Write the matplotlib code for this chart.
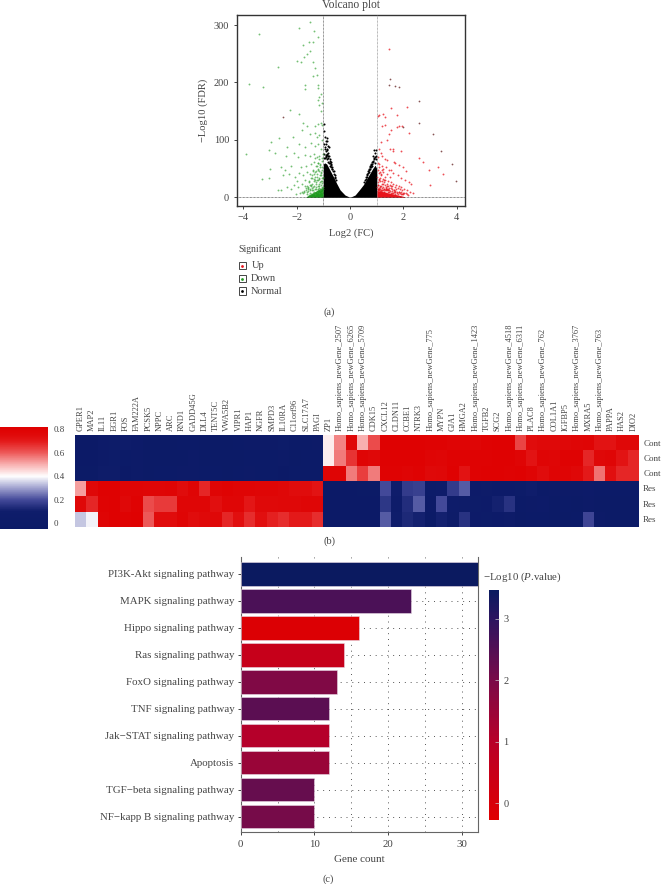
import numpy as np
import matplotlib
matplotlib.use("Agg")
import matplotlib.pyplot as plt
from matplotlib.colors import LinearSegmentedColormap, Normalize
from matplotlib.cm import ScalarMappable
from matplotlib.patches import Rectangle

plt.rcParams.update({"font.family": ["Liberation Serif", "DejaVu Serif"], "font.size": 7.5,
                     "mathtext.fontset": "custom", "mathtext.it": "Liberation Serif:italic",
                     "mathtext.rm": "Liberation Serif", "axes.unicode_minus": True})

W, H = 662, 884
TEXT = "#444444"

# volcano plot, values
up_x = [1.05, 1.1, 1.25, 1.3, 1.45, 1.55, 1.75, 1.55, 2.15, 1.2, 1.3, 1.45, 1.75, 1.85, 1.95, 2.2, 1.15, 1.4, 1.6, 1.9,
        1.1, 1.15, 1.2, 1.3, 1.4, 1.5, 1.6, 1.65, 1.05, 1.1, 1.2, 1.25, 1.35, 1.45, 1.55, 1.7, 1.85, 2.0, 2.1, 1.05, 1.1,
        1.15, 1.25, 1.3, 1.4, 1.5, 1.6, 1.8, 1.9, 2.05, 2.2, 2.3, 1.02, 1.08, 1.12, 1.18, 1.22, 1.28, 1.32, 1.38, 1.42,
        1.48, 1.52, 1.58, 1.62, 1.68, 1.72, 1.78, 1.82, 1.88, 1.92, 2.02, 2.12, 2.25, 2.35, 1.04, 1.14, 1.24, 1.34, 1.44,
        1.54, 1.64, 1.74, 1.84, 1.94, 2.04, 2.14, 1.06, 1.16, 1.26, 1.36, 1.46, 1.56, 1.66, 1.76, 1.86, 1.96,
        2.6, 2.75, 2.95, 3.0, 3.3, 3.5,
        1.03, 1.07, 1.11, 1.17, 1.21, 1.09, 1.13, 1.19, 1.27, 1.03, 1.06, 1.12, 1.16, 1.23, 1.31, 1.37, 1.09, 1.14, 1.2,
        1.29, 1.35, 1.41, 1.47, 1.53, 1.04, 1.1, 1.18, 1.26, 1.33, 1.39, 1.46, 1.57, 1.63, 1.69, 1.02, 1.08, 1.15, 1.22,
        1.3, 1.37, 1.43, 1.51, 1.59, 1.67, 1.75, 1.83, 1.91, 1.99, 2.08, 1.05, 1.13, 1.21, 1.29, 1.36, 1.44, 1.52, 1.6,
        1.7, 1.8, 1.9, 2.0, 2.18]
up_y = [142, 143, 145, 140, 258, 155, 143, 118, 157, 125, 126, 110, 123, 124, 124, 112, 96, 100, 85, 80,
        84, 78, 72, 66, 65, 85, 80, 62, 70, 58, 55, 50, 53, 48, 47, 60, 56, 52, 45, 48, 42,
        38, 44, 36, 40, 35, 42, 38, 34, 30, 26, 24, 36, 30, 34, 28, 32, 26, 30, 24, 28,
        22, 26, 20, 24, 18, 22, 16, 20, 15, 18, 14, 12, 10, 8, 22, 20, 18, 16, 14,
        16, 12, 14, 10, 12, 8, 6, 14, 12, 10, 12, 10, 8, 9, 7, 8, 6,
        68, 62, 47, 22, 53, 40,
        60, 52, 44, 40, 47, 32, 28, 24, 30, 26, 22, 18, 20, 24, 22, 20, 16, 15, 17, 15, 18, 20, 17, 19, 15, 14, 13, 14,
        15, 14, 13, 14, 12, 11, 18, 12, 11, 12, 13, 12, 12, 11, 11, 10, 9, 9, 10, 8, 7, 12, 11, 10, 9, 8, 9, 8, 7, 6, 6, 5, 5, 4]
dark_x = [1.45, 1.5, 1.7, 1.82, 2.6, 2.6, 3.1, 3.4, 3.83, 3.97, 2.0, -2.5]
dark_y = [195, 206, 194, 192, 167, 130, 110, 80, 58, 29, 123, 140]

down_x = [-1.5, -1.9, -1.35, -1.2, -3.4, -1.4, -1.75, -1.55, -1.5, -1.6, -1.72, -2.0, -1.85, -1.4, -1.3, -2.7, -1.25, -1.4,
          -1.2, -1.2, -3.8, -3.25, -1.7, -1.7, -1.1, -1.15, -1.2, -1.15, -1.1, -1.05, -2.25, -1.9, -1.75, -1.6, -1.3, -1.2,
          -1.1, -1.05, -1.8, -1.5, -1.3, -1.25, -1.15, -1.05, -2.15, -2.65, -2.95, -2.35, -1.9, -1.7, -1.45, -1.3, -1.2,
          -1.1, -3.9, -3.05, -2.8, -2.4, -2.1, -1.95, -1.7, -1.5, -1.35, -1.25, -1.15, -1.05, -3.0, -2.6, -2.45, -2.2,
          -1.85, -1.65, -1.45, -1.35, -1.25, -1.2, -1.12, -1.05, -3.05, -3.3, -2.5, -2.3, -2.05, -1.9, -1.75, -1.6, -1.5,
          -1.4, -1.3, -1.22, -1.15, -1.08, -2.7, -2.35, -2.1, -2.0, -1.8, -1.68, -1.55, -1.42, -1.32, -1.25, -1.18, -1.1,
          -1.03, -2.6, -2.2, -1.95, -1.7, -1.58, -1.48, -1.38, -1.28, -1.2, -1.12, -1.06, -1.6, -1.5, -1.42, -1.35, -1.28,
          -1.22, -1.16, -1.1, -1.04, -1.55, -1.45, -1.38, -1.3, -1.24, -1.18, -1.12, -1.07, -1.02,
          -1.03, -1.07, -1.11, -1.16, -1.21, -1.26, -1.31, -1.04, -1.09, -1.14, -1.19, -1.24, -1.29, -1.34, -1.39, -1.02,
          -1.06, -1.13, -1.17, -1.23, -1.33, -1.37, -1.43, -1.47, -1.53, -1.05, -1.1, -1.15, -1.2, -1.27, -1.36, -1.41,
          -1.46, -1.52, -1.57, -1.62, -1.67, -1.03, -1.08, -1.17, -1.26, -1.34, -1.44, -1.51, -1.59, -1.66, -1.74, -1.82,
          -1.04, -1.11, -1.19, -1.3, -1.4, -1.49, -1.56, -1.63, -1.72, -1.78, -1.88, -2.02]
down_y = [305, 294, 290, 280, 285, 270, 266, 270, 255, 250, 245, 237, 236, 235, 225, 227, 213, 212,
          196, 190, 197, 192, 195, 188, 180, 175, 170, 160, 150, 165, 152, 145, 130, 125, 125, 128,
          130, 126, 118, 110, 112, 105, 108, 100, 105, 103, 97, 88, 92, 88, 95, 90, 92,
          85, 75, 82, 78, 72, 78, 70, 74, 72, 76, 70, 72, 68, 50, 52, 48, 55, 52, 55, 58, 62, 54, 60, 56, 52,
          33, 32, 38, 40, 35, 42, 38, 44, 40, 48, 44, 50, 46, 42,
          13, 18, 22, 28, 24, 30, 26, 34, 30, 36, 32, 38,
          34, 12, 14, 18, 20, 16, 22, 18, 24, 20, 26, 28,
          6, 8, 12, 10, 14, 12, 16, 14, 18, 4, 6, 8, 6, 10, 8, 12, 10, 14,
          75, 64, 58, 66, 60, 54, 68, 48, 44, 52, 47, 41, 45, 40, 46, 36, 33, 38, 34, 30, 36, 32, 38, 34, 28, 25, 28, 24,
          30, 26, 28, 24, 20, 22, 18, 20, 16, 18, 22, 20, 18, 20, 16, 15, 14, 12, 11, 9,
          16, 15, 14, 14, 13, 12, 11, 10, 9, 8, 7, 5]
normal_x = [-0.98, -0.95, -0.92, -0.9, -0.87, -0.85, -0.82, -0.8, -0.98, -0.93, -0.88, -0.84, -0.78, -0.75, -0.72, -0.7, -0.66,
            -0.62, -0.58, -0.55, 0.98, 0.95, 0.9, 0.88, 0.85, 0.82, 0.78, 0.75, 0.7, 0.66, 0.62, 0.58,
            -0.97, -0.94, -0.91, -0.88, -0.86, -0.83, -0.96, -0.92, -0.89, -0.85, -0.81, -0.77, -0.74, -0.71, -0.68, -0.96,
            -0.93, -0.9, -0.87, -0.83, -0.79, -0.76, -0.73, -0.69, -0.65, -0.6, -0.56, -0.52, 0.97, 0.93, 0.9, 0.86, 0.83,
            0.8, 0.76, 0.72, 0.68, 0.64, 0.6, 0.56, 0.52, 0.96, 0.92, 0.87, 0.84, 0.8, 0.74, 0.7, 0.65]
normal_y = [128, 105, 98, 92, 103, 98, 90, 88, 115, 85, 82, 78, 72, 66, 62, 58, 52,
            46, 38, 34, 83, 78, 82, 68, 72, 62, 58, 54, 50, 42, 36, 32,
            92, 88, 80, 76, 84, 72, 76, 73, 70, 74, 68, 64, 60, 56, 50, 68, 68, 72, 66, 62, 60, 55, 52, 50, 45, 40, 36, 30,
            72, 70, 66, 64, 58, 56, 52, 48, 45, 40, 36, 30, 27, 66, 60, 62, 55, 52, 50, 44, 38]

# dense core of the cloud, outline
core_x = [-1.0, -0.95, -0.875, -0.75, -0.625, -0.5, -0.375, -0.19, 0, 0.19, 0.35, 0.5, 0.625, 0.75, 0.85, 0.94, 1.0]
core_top = [58, 60, 58, 47, 36, 24, 13, 4, 0, 4, 13, 22, 32, 42, 50, 56, 50]
down_core_x = [-1.65, -1.5, -1.35, -1.2, -1.1, -1.0]
down_core_top = [1, 5, 9, 13, 15, 18]
up_core_x = [1.0, 1.1, 1.3, 1.5, 1.7, 1.9, 2.05]
up_core_top = [12, 11, 9, 7, 5, 3, 1]

# heatmap
gene_labels = ["GPER1", "MAP2", "IL11", "EGR1", "FOS", "FAM222A", "PCSK5", "NPPC", "ARC", "RND1", "GADD45G", "DLL4",
               "TENT5C", "VWA5B2", "VIPR1", "HAP1", "NGFR", "SMPD3", "IL10RA", "C11orf96", "SLC17A7", "PAGI", "ZP1",
               "Homo_sapiens_newGene_2507", "Homo_sapiens_newGene_6265", "Homo_sapiens_newGene_5709", "CDK15", "CXCL12",
               "CLDN11", "CCBE1", "NTRK3", "Homo_sapiens_newGene_775", "MYPN", "GJA1", "HMGA2",
               "Homo_sapiens_newGene_1423", "TGFB2", "SCG2", "Homo_sapiens_newGene_4518", "Homo_sapiens_newGene_6311",
               "PLAC8", "Homo_sapiens_newGene_762", "COL1A1", "IGFBP5", "Homo_sapiens_newGene_3767", "MXRA5",
               "Homo_sapiens_newGene_763", "PAPPA", "HAS2", "DIO2"]
sample_labels = ["Cont", "Cont", "Cont", "Res", "Res", "Res"]
cont1 = [.0, .0, .05, .06, .08, .05, .01, .01, .01, .02, .02, .01, .01, .01, .02, .03, .03, .04, .06, .02, .02, .03,
         .42, .55, .76, .50, .62, .8, .8, .8, .8, .79, .79, .78, .78, .77, .79, .8, .8, .63, .74, .75, .75, .76, .77, .78, .72, .72, .76, .76]
cont2 = [.0, .0, .04, .06, .02, .03, .01, .01, .01, .01, .04, .01, .01, .01, .01, .02, .02, .02, .03, .01, .02, .02,
         .42, .56, .66, .78, .76, .8, .8, .8, .8, .78, .77, .79, .79, .79, .79, .8, .8, .78, .72, .78, .77, .79, .79, .68, .76, .77, .72, .68]
cont3 = [.01, .01, .07, .07, .0, .03, .01, .02, .02, .04, .03, .02, .02, .01, .02, .03, .02, .02, .0, .02, .02, .02,
         .78, .78, .56, .64, .56, .79, .79, .78, .79, .75, .76, .8, .72, .79, .8, .8, .79, .8, .78, .74, .78, .78, .76, .7, .57, .73, .68, .68]
res1 = [.52, .76, .8, .8, .78, .78, .77, .77, .78, .74, .78, .68, .78, .79, .78, .78, .77, .77, .76, .74, .74, .72,
        .0, .0, .0, .01, .01, .2, .1, .17, .18, .06, .08, .17, .22, .05, .07, .05, .05, .06, .1, .02, .03, .03, .04, .05, .02, .02, .02, .02]
res2 = [.76, .68, .79, .8, .76, .79, .62, .65, .65, .77, .77, .77, .73, .77, .77, .71, .75, .75, .76, .76, .77, .77,
        .0, .0, .0, .0, .0, .16, .09, .14, .22, .03, .2, .08, .07, .06, .05, .11, .15, .02, .03, .05, .01, .02, .01, .04, .01, .01, .01, .01]
res3 = [.34, .385, .78, .8, .79, .8, .6, .74, .74, .78, .74, .75, .76, .68, .73, .67, .73, .69, .67, .7, .7, .67,
        .0, .0, .0, .0, .0, .22, .1, .13, .11, .01, .11, .07, .15, .05, .06, .05, .07, .01, .02, .02, .01, .01, .02, .19, .03, .01, .01, .01]
heat_ticks = [0, 0.2, 0.4, 0.6, 0.8]

# bar chart
pathways = ["PI3K-Akt signaling pathway", "MAPK signaling pathway", "Hippo signaling pathway", "Ras signaling pathway",
            "FoxO signaling pathway", "TNF signaling pathway", "Jak\u2212STAT signaling pathway", "Apoptosis",
            "TGF\u2212beta signaling pathway", "NF\u2212kapp B signaling pathway"]
gene_count = [32.2, 23.1, 16, 14, 13, 12, 12, 12, 10, 10]
log_p = [3.45, 2.6, -0.15, 0.55, 1.9, 2.4, 1.05, 1.5, 2.25, 2.05]


def px_axes(left, top, right, bottom):
    return fig.add_axes([left / W, 1 - bottom / H, (right - left) / W, (bottom - top) / H])


def pos(value, vmin, vmax):
    return (value - vmin) / (vmax - vmin)


fig = plt.figure(figsize=(W / 100, H / 100), dpi=100)

# (a) volcano
ax = px_axes(236.7, 14.7, 465, 205.7)
ax.fill_between(core_x, 0, core_top, color="black", lw=0, zorder=2)
ax.fill_between(down_core_x, 0, down_core_top, color="#1f9a1f", lw=0, zorder=2)
ax.fill_between(up_core_x, 0, up_core_top, color="#e8141c", lw=0, zorder=2)
ax.scatter(normal_x, normal_y, s=2.2, c="black", lw=0, zorder=3)
ax.scatter(down_x, down_y, s=1.8, c="#3aa53a", lw=0, alpha=0.7, zorder=3)
ax.scatter(up_x, up_y, s=1.8, c="#e8141c", lw=0, alpha=0.75, zorder=3)
ax.scatter(dark_x, dark_y, s=1.6, c="#6a2a2a", lw=0, alpha=0.8, zorder=3)
ax.axvline(-1, color="#333333", lw=0.5, ls=(0, (1, 1)), zorder=4)
ax.axvline(1, color="#777777", lw=0.5, ls=(0, (1, 1)), zorder=4)
ax.axhline(0, color="#222222", lw=0.5, ls=(0, (1, 1)), zorder=4)
ax.set_xlim(-4.25, 4.31)
ax.set_ylim(-14.6, 318)
ax.set_xticks([-4, -2, 0, 2, 4])
ax.set_yticks([0, 100, 200, 300])
ax.set_xlabel("Log2 (FC)", fontsize=7.6, color=TEXT, labelpad=4.5)
ax.set_ylabel("\u2212Log10 (FDR)", fontsize=7.6, color=TEXT, labelpad=4)
ax.set_title("Volcano plot", fontsize=8.3, color=TEXT, pad=5)
ax.tick_params(length=2.5, width=0.7, labelsize=7.5, labelcolor=TEXT, color="#444444", pad=3)
for s in ax.spines.values():
    s.set_linewidth(1.0)
    s.set_color("#333333")

# (b) heatmap
heat_norm = Normalize(-0.05, 0.82)
heat_cmap = LinearSegmentedColormap.from_list("heat", [(0, "#0b1a66"), (pos(.1, -.05, .82), "#0f1d6b"),
                                                       (pos(.2, -.05, .82), "#444a9a"), (pos(.3, -.05, .82), "#a0a2cf"),
                                                       (pos(.4, -.05, .82), "#ffffff"), (pos(.5, -.05, .82), "#f8b0b0"),
                                                       (pos(.6, -.05, .82), "#ed5a5a"), (pos(.7, -.05, .82), "#e41a1a"),
                                                       (pos(.75, -.05, .82), "#e00a0a"), (1, "#df0000")])
heat_values = np.array([cont1, cont2, cont3, res1, res2, res3])
ax = px_axes(75, 435, 639, 526.7)
ax.imshow(heat_values, cmap=heat_cmap, norm=heat_norm, aspect="auto", interpolation="nearest")
ax.set_xticks(range(len(gene_labels)))
ax.set_xticklabels(gene_labels, rotation=90, fontsize=6, color=TEXT)
ax.xaxis.tick_top()
ax.set_yticks(range(len(sample_labels)))
ax.set_yticklabels(sample_labels, fontsize=6.5, color=TEXT)
ax.yaxis.tick_right()
ax.tick_params(length=0, pad=3)
for s in ax.spines.values():
    s.set_visible(False)

cax = px_axes(0, 427, 48, 529)
cb = fig.colorbar(ScalarMappable(norm=heat_norm, cmap=heat_cmap), cax=cax)
cb.set_ticks(heat_ticks)
cb.set_ticklabels(["0", "0.2", "0.4", "0.6", "0.8"])
cb.outline.set_visible(False)
cax.tick_params(length=0, labelsize=6.5, labelcolor=TEXT, pad=4)

# (c) bars
bar_norm = Normalize(-0.27, 3.47)
bar_cmap = LinearSegmentedColormap.from_list("bar", [(0, "#e00000"), (pos(1, -.27, 3.47), "#b80028"),
                                                     (pos(2, -.27, 3.47), "#7a0a48"), (pos(3, -.27, 3.47), "#2c1560"),
                                                     (1, "#0a1a60")])
ax = px_axes(240.7, 557, 478, 832)
ax.set_axisbelow(True)
ax.barh(pathways, gene_count, height=0.865, color=bar_cmap(bar_norm(log_p)), edgecolor="#e8d8e4", lw=0.4, zorder=3)
ax.set_xlim(0, 32.2)
ax.set_ylim(9.567, -0.63)
ax.set_xticks([0, 10, 20, 30])
ax.set_xticks([5, 15, 25], minor=True)
ax.grid(True, which="both", color="#555555", lw=0.7, ls=(0, (1, 5)))
ax.set_xlabel("Gene count", fontsize=8, color=TEXT, labelpad=4.5)
ax.tick_params(axis="both", length=2.5, width=0.7, labelsize=7.8, labelcolor=TEXT, color="#444444", pad=3)
ax.tick_params(axis="y", pad=2)
ax.tick_params(axis="x", which="minor", length=0)
ax.spines["top"].set_visible(False)
for name in ["left", "right", "bottom"]:
    ax.spines[name].set_color("#666666")
    ax.spines[name].set_linewidth(0.8)

cax = px_axes(489, 590, 499.3, 820)
cb = fig.colorbar(ScalarMappable(norm=bar_norm, cmap=bar_cmap), cax=cax)
cb.set_ticks([0, 1, 2, 3])
cb.outline.set_visible(False)
cax.tick_params(length=3, width=0.5, color="#c8c8c8", direction="in", labelsize=7.5, labelcolor=TEXT, pad=3)
fig.text(483 / W, 1 - 577 / H, "\u2212Log10 ($\\mathit{P}$.value)", fontsize=7.8, color=TEXT, va="center")

# legend and panel letters sit on a full figure overlay in pixel units
over = fig.add_axes([0, 0, 1, 1], facecolor="none")
over.set_xlim(0, W)
over.set_ylim(H, 0)
over.axis("off")
over.text(238.5, 249, "Significant", fontsize=7, color=TEXT, va="center")
legend_labels = ["Up", "Down", "Normal"]
legend_colors = ["#e8141c", "#1f9a1f", "black"]
legend_y = [265.7, 278.5, 291]
legend_text_x = [252, 250.5, 251]
for label, col, y, tx in zip(legend_labels, legend_colors, legend_y, legend_text_x):
    over.add_patch(Rectangle((238.5, y - 3.7), 7.4, 7.4, fill=False, ec="#444444", lw=0.7))
    over.plot([242.2], [y], "o", ms=2, color=col, mew=0)
    over.text(tx, y, label, fontsize=7.5, color=TEXT, va="center")
for label, x, y in [("(a)", 329, 312), ("(b)", 329, 541), ("(c)", 328, 879)]:
    over.text(x, y, label, fontsize=7.5, color=TEXT, ha="center", va="center")

fig.savefig("out.png", dpi=100)
